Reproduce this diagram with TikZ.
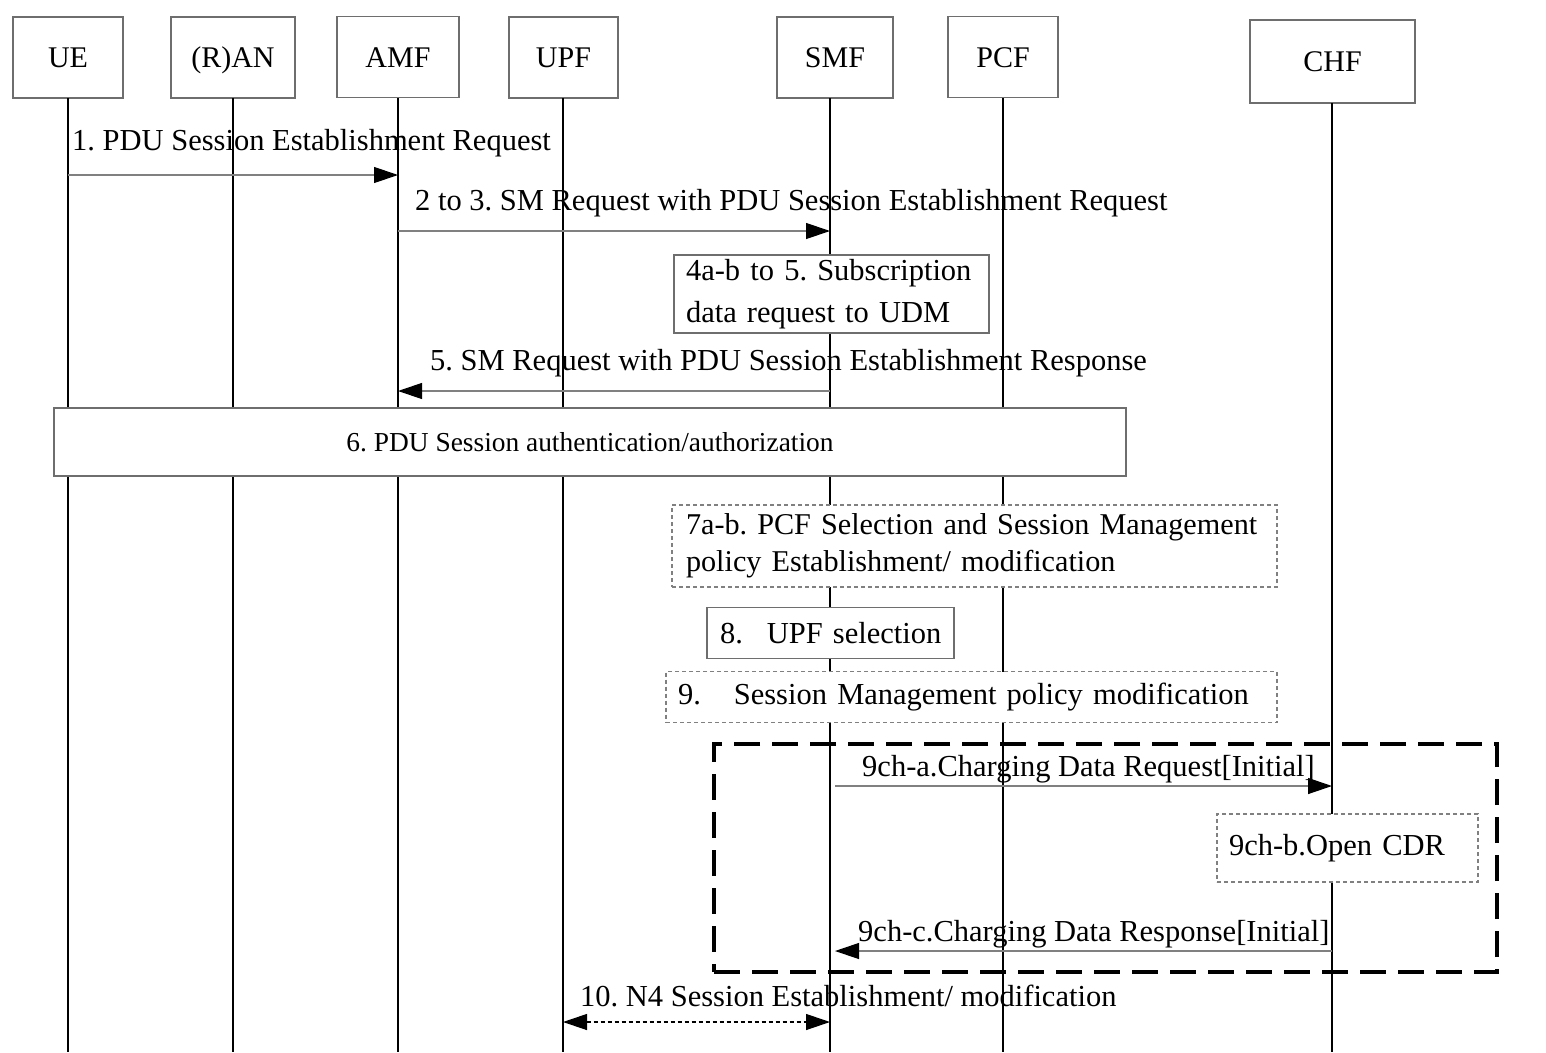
\documentclass[tikz,border=0pt]{standalone}
\usepackage{fontspec}
\setmainfont{Liberation Serif}
\usetikzlibrary{arrows.meta,calc}
\definecolor{boxgray}{HTML}{6E6E6E}
\definecolor{arrgray}{HTML}{808080}
\frenchspacing
\hyphenpenalty=10000
\tikzset{
  actor/.style={draw=boxgray, line width=1.2pt, fill=white, minimum width=#1, minimum height=81pt, inner sep=0pt, text height=27pt, text depth=7pt, font=\fontsize{30}{36}\selectfont},
  life/.style={line width=2pt, black},
  msg/.style={draw=arrgray, line width=1.2pt, -{Triangle[length=24pt,width=16pt,fill=black,color=black]}},
  msgtext/.style={anchor=base west, inner sep=0pt, font=\fontsize{30.5}{36}\selectfont},
  stepbox/.style={draw=boxgray, line width=1.2pt, fill=white, inner sep=0pt, font=\fontsize{30.5}{36}\selectfont},
  dashbox/.style={stepbox, dash pattern=on 4pt off 3pt, draw=arrgray},
  bigdash/.style={draw=black, line width=3.5pt, dash pattern=on 26pt off 12pt}
}
\begin{document}
\begin{tikzpicture}[x=1pt,y=-1pt]
\useasboundingbox (0,0) rectangle (1546,1052);
\fill[white] (0,0) rectangle (1546,1052);
% actors
\node[actor=110pt] (ue)  at (68,57.5) {UE};
\node[actor=124pt] (ran) at (233,57.5) {(R)AN};
\node[actor=122pt] (amf) at (398,57) {AMF};
\node[actor=109pt] (upf) at (563.5,57.5) {UPF};
\node[actor=116pt] (smf) at (835,57.5) {SMF};
\node[actor=110pt] (pcf) at (1003,57) {PCF};
\node[actor=165pt, minimum height=83pt] (chf) at (1332.5,61.5) {CHF};
% lifeline coordinates
\coordinate (ueB) at (68,1052);
\coordinate (ranB) at (233,1052);
\coordinate (amfB) at (398,1052);
\coordinate (upfB) at (563,1052);
\coordinate (smfB) at (830,1052);
\coordinate (pcfB) at (1003,1052);
\coordinate (chfB) at (1332,1052);
\coordinate (ueT) at (68,98);
\coordinate (ranT) at (233,98);
\coordinate (amfT) at (398,98);
\coordinate (upfT) at (563,98);
\coordinate (smfT) at (830,98);
\coordinate (pcfT) at (1003,98);
\coordinate (chfT) at (1332,103);
\foreach \n in {ue,ran,amf,upf,smf,pcf,chf} { \draw[life] (\n T) -- (\n B); }
% message 1
\coordinate (m1a) at (68,175); \coordinate (m1b) at (398,175);
\node[msgtext] (t1) at (72,150) {1. PDU Session Establishment Request};
\draw[msg] (m1a) -- (m1b);
% message 2-3
\coordinate (m2a) at (398,231); \coordinate (m2b) at (830,231);
\node[msgtext] (t2) at (415,210) {2 to 3. SM Request with PDU Session Establishment Request};
\draw[msg] (m2a) -- (m2b);
% box 4
\node[stepbox, minimum width=315pt, minimum height=78pt, align=left, text width=291pt, font=\fontsize{30.5}{42}\selectfont] (b4) at (831.5,294) {\mbox{4a-b to 5. Subscription}\\\mbox{data request to UDM}};
% message 5
\coordinate (m5a) at (830,391); \coordinate (m5b) at (398,391);
\node[msgtext] (t5) at (430,370) {5. SM Request with PDU Session Establishment Response};
\draw[msg] (m5a) -- (m5b);
% box 6
\node[stepbox, minimum width=1072pt, minimum height=68pt, font=\fontsize{27.4}{33}\selectfont] (b6) at (590,442) {6. PDU Session authentication/authorization};
% box 7
\node[dashbox, minimum width=605pt, minimum height=82pt, align=left, text width=577pt, font=\fontsize{30.2}{37}\selectfont] (b7) at (974.5,546) {\mbox{7a-b. PCF Selection and Session Management}\\\mbox{policy Establishment/ modification}};
% box 8
\node[stepbox, minimum width=247pt, minimum height=51pt, align=left, text width=221pt] (b8) at (830.5,633) {\mbox{8.\hspace{24pt}UPF selection}};
% box 9
\node[dashbox, minimum width=611pt, minimum height=51pt, align=left, text width=587pt] (b9) at (971.5,697) {\mbox{9.\hspace{33pt}Session Management policy modification}};
% big dashed frame
\node[bigdash, minimum width=783pt, minimum height=228pt, inner sep=0pt] (frame) at (1105.5,858) {};
% 9ch-a
\coordinate (ca) at (835,786); \coordinate (cb) at (1332,786);
\node[msgtext] (t9a) at (862,776) {9ch-a.Charging Data Request[Initial]};
\draw[msg] (ca) -- (cb);
% 9ch-b
\node[dashbox, minimum width=261pt, minimum height=68pt, align=left, text width=237pt] (b9b) at (1347.5,848) {\mbox{9ch-b.Open CDR}};
% 9ch-c
\coordinate (cc) at (1332,951); \coordinate (cd) at (835,951);
\node[msgtext] (t9c) at (858,941) {9ch-c.Charging Data Response[Initial]};
\draw[msg] (cc) -- (cd);
% 10
\coordinate (n4a) at (563,1022); \coordinate (n4b) at (830,1022);
\node[msgtext] (t10) at (580,1006) {10. N4 Session Establishment/ modification};
\draw[draw=black, line width=1.2pt, dash pattern=on 4pt off 3pt, {Triangle[length=24pt,width=16pt]}-{Triangle[length=24pt,width=16pt]}] (n4a) -- (n4b);
\end{tikzpicture}
\end{document}
